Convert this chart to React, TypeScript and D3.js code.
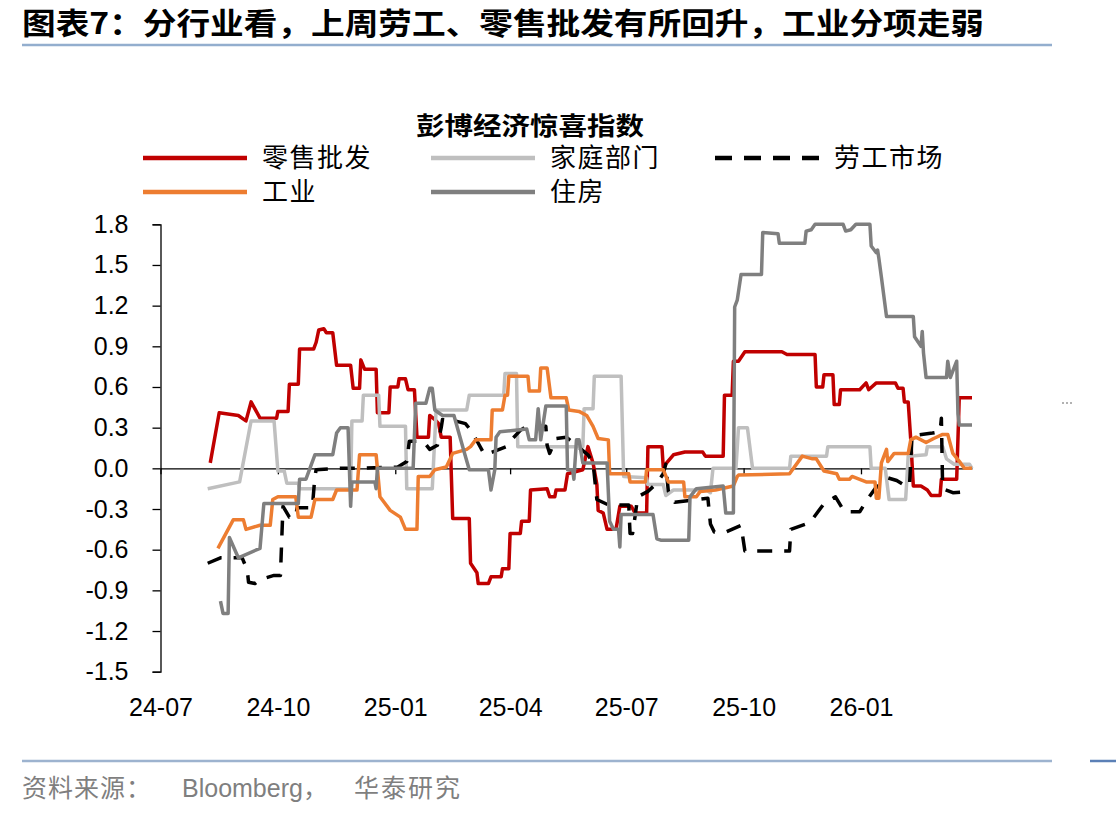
import React, { useRef, useEffect } from 'react';
import * as d3 from 'd3';

type Pt = [string, number];

// 彭博经济惊喜指数 by sector, sampled at each step change
const retail: Pt[] = [
  ["2024-08-09", 0.04], ["2024-08-16", 0.41], ["2024-08-31", 0.39], ["2024-09-06", 0.35], ["2024-09-10", 0.49],
  ["2024-09-17", 0.37], ["2024-09-30", 0.37], ["2024-10-01", 0.42], ["2024-10-09", 0.42], ["2024-10-10", 0.62],
  ["2024-10-17", 0.62], ["2024-10-18", 0.88], ["2024-10-29", 0.88], ["2024-10-31", 0.93], ["2024-11-02", 1.02],
  ["2024-11-06", 1.03], ["2024-11-08", 1.0], ["2024-11-13", 1.0], ["2024-11-16", 0.76], ["2024-11-27", 0.76],
  ["2024-11-29", 0.59], ["2024-12-04", 0.59], ["2024-12-05", 0.8], ["2024-12-08", 0.73], ["2024-12-17", 0.73],
  ["2024-12-18", 0.41], ["2024-12-27", 0.41], ["2024-12-28", 0.6], ["2025-01-03", 0.6], ["2025-01-04", 0.66],
  ["2025-01-09", 0.66], ["2025-01-11", 0.58], ["2025-01-16", 0.58], ["2025-01-18", 0.23], ["2025-01-27", 0.23],
  ["2025-01-28", 0.39], ["2025-02-01", 0.36], ["2025-02-04", 0.33], ["2025-02-06", 0.23], ["2025-02-13", 0.23],
  ["2025-02-15", -0.37], ["2025-02-28", -0.37], ["2025-03-01", -0.7], ["2025-03-06", -0.77], ["2025-03-07", -0.85],
  ["2025-03-15", -0.85], ["2025-03-17", -0.8], ["2025-03-25", -0.8], ["2025-03-26", -0.74], ["2025-03-31", -0.74],
  ["2025-04-01", -0.48], ["2025-04-09", -0.48], ["2025-04-10", -0.39], ["2025-04-16", -0.39], ["2025-04-17", -0.16],
  ["2025-04-30", -0.15], ["2025-05-02", -0.21], ["2025-05-06", -0.21], ["2025-05-07", -0.16], ["2025-05-14", -0.16],
  ["2025-05-16", -0.04], ["2025-05-28", -0.01], ["2025-06-01", 0.16], ["2025-06-05", 0.04], ["2025-06-08", -0.12],
  ["2025-06-09", -0.31], ["2025-06-13", -0.33], ["2025-06-16", -0.45], ["2025-06-23", -0.45], ["2025-06-26", -0.28],
  ["2025-07-05", -0.28], ["2025-07-08", -0.33], ["2025-07-17", -0.33], ["2025-07-18", 0.16], ["2025-07-29", 0.16],
  ["2025-07-30", 0.01], ["2025-08-07", 0.1], ["2025-08-16", 0.12], ["2025-08-30", 0.12], ["2025-09-01", 0.09],
  ["2025-09-15", 0.09], ["2025-09-16", 0.54], ["2025-09-22", 0.54], ["2025-09-23", 0.79], ["2025-09-27", 0.79],
  ["2025-10-02", 0.86], ["2025-10-31", 0.86], ["2025-11-04", 0.84], ["2025-11-26", 0.84], ["2025-11-27", 0.6],
  ["2025-12-02", 0.6], ["2025-12-03", 0.69], ["2025-12-10", 0.69], ["2025-12-11", 0.47], ["2025-12-15", 0.47],
  ["2025-12-16", 0.58], ["2025-12-31", 0.58], ["2026-01-05", 0.63], ["2026-01-07", 0.58], ["2026-01-13", 0.63],
  ["2026-01-28", 0.63], ["2026-01-30", 0.59], ["2026-02-03", 0.59], ["2026-02-04", 0.49], ["2026-02-07", 0.49],
  ["2026-02-09", 0.21], ["2026-02-11", -0.13], ["2026-02-17", -0.13], ["2026-02-22", -0.16], ["2026-02-25", -0.2],
  ["2026-03-04", -0.2], ["2026-03-05", -0.08], ["2026-03-17", -0.08], ["2026-03-19", 0.52], ["2026-03-29", 0.52],
];

const household: Pt[] = [
  ["2024-08-07", -0.15], ["2024-09-01", -0.1], ["2024-09-10", 0.35], ["2024-09-28", 0.35], ["2024-10-01", -0.02],
  ["2024-10-06", -0.02], ["2024-10-08", -0.11], ["2024-10-17", -0.11], ["2024-10-18", -0.15], ["2024-11-27", -0.15],
  ["2024-11-28", 0.35], ["2024-12-06", 0.35], ["2024-12-07", 0.54], ["2024-12-19", 0.54], ["2024-12-20", 0.31],
  ["2025-01-09", 0.31], ["2025-01-10", -0.15], ["2025-01-30", -0.15], ["2025-02-02", 0.43], ["2025-02-26", 0.43],
  ["2025-02-28", 0.54], ["2025-03-27", 0.54], ["2025-03-28", 0.7], ["2025-04-06", 0.7], ["2025-04-07", 0.16],
  ["2025-05-28", 0.16], ["2025-05-29", 0.44], ["2025-06-05", 0.44], ["2025-06-06", 0.68], ["2025-06-27", 0.68],
  ["2025-06-29", -0.06], ["2025-07-17", -0.07], ["2025-07-18", -0.12], ["2025-07-30", -0.12], ["2025-08-01", -0.2],
  ["2025-08-07", -0.16], ["2025-09-02", -0.16], ["2025-09-05", -0.18], ["2025-09-07", 0], ["2025-09-25", 0],
  ["2025-09-27", 0.3], ["2025-10-04", 0.3], ["2025-10-08", 0], ["2025-11-06", 0], ["2025-11-07", 0.09],
  ["2025-12-05", 0.09], ["2025-12-06", 0.16], ["2026-01-08", 0.16], ["2026-01-09", 0], ["2026-01-20", 0],
  ["2026-01-23", -0.23], ["2026-02-05", -0.23], ["2026-02-07", 0.09], ["2026-02-21", 0.1], ["2026-02-22", 0.16],
  ["2026-03-06", 0.16], ["2026-03-09", 0.07], ["2026-03-15", 0.03], ["2026-03-27", 0.03], ["2026-03-29", 0],
];

const labor: Pt[] = [
  ["2024-08-07", -0.7], ["2024-08-17", -0.66], ["2024-09-03", -0.66], ["2024-09-07", -0.75], ["2024-09-08", -0.84],
  ["2024-09-13", -0.85], ["2024-09-17", -0.82], ["2024-09-28", -0.79], ["2024-10-03", -0.79], ["2024-10-04", -0.53],
  ["2024-10-05", -0.28], ["2024-10-10", -0.36], ["2024-10-15", -0.36], ["2024-10-16", -0.29], ["2024-10-28", -0.29],
  ["2024-10-30", -0.06], ["2024-10-31", -0.01], ["2024-11-16", 0], ["2024-12-04", 0], ["2025-01-03", 0.01],
  ["2025-01-10", 0.05], ["2025-01-12", 0.2], ["2025-01-23", 0.2], ["2025-01-28", 0.14], ["2025-02-03", 0.17],
  ["2025-02-06", 0.3], ["2025-02-07", 0.36], ["2025-02-17", 0.35], ["2025-02-25", 0.33], ["2025-03-03", 0.26],
  ["2025-03-05", 0.22], ["2025-03-12", 0.1], ["2025-03-18", 0.12], ["2025-03-29", 0.16], ["2025-04-02", 0.21],
  ["2025-04-09", 0.28], ["2025-04-14", 0.31], ["2025-04-29", 0.31], ["2025-04-30", 0.17], ["2025-05-02", 0.11],
  ["2025-05-07", 0.22], ["2025-05-15", 0.23], ["2025-06-01", 0.1], ["2025-06-05", 0.04], ["2025-06-08", -0.23],
  ["2025-06-17", -0.27], ["2025-07-03", -0.27], ["2025-07-04", -0.48], ["2025-07-06", -0.48], ["2025-07-08", -0.35],
  ["2025-07-10", -0.21], ["2025-07-18", -0.17], ["2025-07-25", -0.11], ["2025-07-30", -0.04], ["2025-08-01", 0.03],
  ["2025-08-03", -0.17], ["2025-08-08", -0.25], ["2025-09-03", -0.22], ["2025-09-05", -0.41], ["2025-09-08", -0.47],
  ["2025-09-17", -0.47], ["2025-09-29", -0.42], ["2025-10-02", -0.61], ["2025-11-06", -0.61], ["2025-11-07", -0.45],
  ["2025-11-22", -0.4], ["2025-12-03", -0.26], ["2025-12-12", -0.21], ["2025-12-19", -0.32], ["2025-12-31", -0.32],
  ["2026-01-06", -0.23], ["2026-01-12", -0.15], ["2026-01-22", -0.07], ["2026-01-29", -0.09], ["2026-02-05", -0.13],
  ["2026-02-08", -0.13], ["2026-02-10", 0.24], ["2026-02-26", 0.26], ["2026-03-04", 0.27], ["2026-03-05", 0.37],
  ["2026-03-06", -0.15], ["2026-03-14", -0.18], ["2026-03-29", -0.17],
];

const industry: Pt[] = [
  ["2024-08-15", -0.59], ["2024-08-27", -0.38], ["2024-09-04", -0.38], ["2024-09-06", -0.45], ["2024-09-17", -0.42],
  ["2024-09-25", -0.42], ["2024-09-27", -0.23], ["2024-10-01", -0.21], ["2024-10-15", -0.21], ["2024-10-17", -0.36],
  ["2024-10-27", -0.36], ["2024-10-30", -0.23], ["2024-11-13", -0.23], ["2024-11-16", -0.16], ["2024-12-02", -0.16],
  ["2024-12-04", 0.1], ["2024-12-17", 0.1], ["2024-12-20", -0.21], ["2024-12-28", -0.31], ["2025-01-05", -0.36],
  ["2025-01-09", -0.45], ["2025-01-18", -0.45], ["2025-01-19", -0.06], ["2025-01-28", -0.06], ["2025-02-01", -0.01],
  ["2025-02-10", 0.01], ["2025-02-15", 0.11], ["2025-02-26", 0.14], ["2025-03-01", 0.16], ["2025-03-05", 0.21],
  ["2025-03-17", 0.21], ["2025-03-18", 0.43], ["2025-03-26", 0.43], ["2025-03-28", 0.54], ["2025-03-30", 0.54],
  ["2025-03-31", 0.68], ["2025-04-15", 0.68], ["2025-04-16", 0.57], ["2025-04-24", 0.57], ["2025-04-25", 0.74],
  ["2025-04-30", 0.74], ["2025-05-03", 0.52], ["2025-05-15", 0.52], ["2025-05-17", 0.43], ["2025-05-25", 0.42],
  ["2025-05-31", 0.39], ["2025-06-05", 0.31], ["2025-06-09", 0.22], ["2025-06-17", 0.21], ["2025-06-18", -0.04],
  ["2025-07-03", -0.04], ["2025-07-04", -0.1], ["2025-07-16", -0.1], ["2025-07-17", -0.01], ["2025-07-30", -0.01],
  ["2025-08-03", -0.1], ["2025-08-15", -0.1], ["2025-08-16", -0.21], ["2025-08-25", -0.21], ["2025-08-28", -0.17],
  ["2025-09-09", -0.16], ["2025-09-23", -0.13], ["2025-09-26", -0.06], ["2025-09-27", -0.05], ["2025-11-06", -0.04],
  ["2025-11-16", 0.09], ["2025-11-24", 0.07], ["2025-11-27", 0.07], ["2025-12-01", 0.01], ["2025-12-03", -0.02],
  ["2025-12-13", -0.04], ["2025-12-15", -0.08], ["2025-12-23", -0.08], ["2025-12-25", -0.06], ["2026-01-05", -0.1],
  ["2026-01-12", -0.1], ["2026-01-13", -0.22], ["2026-01-15", -0.22], ["2026-01-17", 0.04], ["2026-01-21", 0.14],
  ["2026-01-22", 0.05], ["2026-01-27", 0.11], ["2026-02-07", 0.11], ["2026-02-09", 0.21], ["2026-02-13", 0.23],
  ["2026-02-21", 0.19], ["2026-02-27", 0.22], ["2026-03-06", 0.25], ["2026-03-10", 0.25], ["2026-03-14", 0.11],
  ["2026-03-20", 0.04], ["2026-03-23", 0], ["2026-03-29", 0],
];

const housing: Pt[] = [
  ["2024-08-17", -0.98], ["2024-08-19", -1.07], ["2024-08-23", -1.07], ["2024-08-24", -0.51], ["2024-08-31", -0.66],
  ["2024-09-17", -0.59], ["2024-09-20", -0.26], ["2024-10-17", -0.26], ["2024-10-18", -0.08], ["2024-10-23", -0.08],
  ["2024-10-30", 0.1], ["2024-11-13", 0.1], ["2024-11-16", 0.26], ["2024-11-19", 0.3], ["2024-11-25", 0.3],
  ["2024-11-27", -0.28], ["2024-11-28", -0.1], ["2024-12-16", -0.1], ["2024-12-17", -0.15], ["2024-12-18", 0],
  ["2025-01-15", 0], ["2025-01-17", 0.48], ["2025-01-25", 0.48], ["2025-01-28", 0.59], ["2025-01-30", 0.59],
  ["2025-02-01", 0.43], ["2025-02-07", 0.39], ["2025-02-16", 0.39], ["2025-02-24", 0.12], ["2025-02-28", -0.01],
  ["2025-03-15", -0.01], ["2025-03-17", -0.16], ["2025-03-20", -0.01], ["2025-03-21", 0.23], ["2025-03-24", 0.27],
  ["2025-04-14", 0.29], ["2025-04-16", 0.21], ["2025-04-21", 0.21], ["2025-04-23", 0.44], ["2025-04-25", 0.21],
  ["2025-04-29", 0.46], ["2025-05-15", 0.46], ["2025-05-16", -0.01], ["2025-05-20", -0.01], ["2025-05-21", -0.08],
  ["2025-05-23", 0.21], ["2025-05-25", 0.21], ["2025-05-28", 0.04], ["2025-06-16", 0.04], ["2025-06-17", -0.18],
  ["2025-06-18", -0.39], ["2025-06-21", -0.45], ["2025-06-25", -0.45], ["2025-06-26", -0.58], ["2025-06-27", -0.34],
  ["2025-07-22", -0.34], ["2025-07-25", -0.52], ["2025-07-28", -0.53], ["2025-08-19", -0.53], ["2025-08-20", -0.21],
  ["2025-08-25", -0.15], ["2025-09-15", -0.13], ["2025-09-17", -0.33], ["2025-09-23", -0.33], ["2025-09-24", 1.19],
  ["2025-09-26", 1.24], ["2025-09-29", 1.43], ["2025-10-15", 1.43], ["2025-10-16", 1.74], ["2025-10-28", 1.73],
  ["2025-10-29", 1.66], ["2025-11-18", 1.66], ["2025-11-19", 1.75], ["2025-11-23", 1.76], ["2025-11-26", 1.8],
  ["2025-12-18", 1.8], ["2025-12-20", 1.75], ["2025-12-24", 1.76], ["2025-12-28", 1.8], ["2026-01-08", 1.8],
  ["2026-01-09", 1.64], ["2026-01-13", 1.59], ["2026-01-14", 1.61], ["2026-01-15", 1.55], ["2026-01-17", 1.41],
  ["2026-01-21", 1.12], ["2026-02-11", 1.12], ["2026-02-12", 0.97], ["2026-02-17", 0.9], ["2026-02-18", 1.01],
  ["2026-02-19", 0.85], ["2026-02-21", 0.67], ["2026-03-09", 0.67], ["2026-03-10", 0.79], ["2026-03-12", 0.67],
  ["2026-03-17", 0.79], ["2026-03-18", 0.4], ["2026-03-19", 0.32], ["2026-03-29", 0.32],
];

const seriesNames = ["零售批发", "家庭部门", "劳工市场", "工业", "住房"];
const seriesColors = ["#C00000", "#BFBFBF", "#000000", "#ED7D31", "#7F7F7F"];
const xTickLabels = ["24-07", "24-10", "25-01", "25-04", "25-07", "25-10", "26-01"];
const yTicks = [-1.5, -1.2, -0.9, -0.6, -0.3, 0, 0.3, 0.6, 0.9, 1.2, 1.5, 1.8];
const xDomain = ["2024-07-01", "2026-03-29"];

const titleText = "图表7：分行业看，上周劳工、零售批发有所回升，工业分项走弱";
const chartTitle = "彭博经济惊喜指数";

const CJK = "'Noto Sans CJK SC', sans-serif";
const NUM = "'Liberation Sans', Arial, sans-serif";

const App = () => {
  const svgRef = useRef<SVGSVGElement>(null);

  useEffect(() => {
    const svg = d3.select(svgRef.current);
    svg.selectAll("*").remove();

    const parse = d3.timeParse("%Y-%m-%d");
    const x = d3.scaleTime()
      .domain(xDomain.map(d => parse(d) as Date))
      .range([160.5, 972]);
    const y = d3.scaleLinear()
      .domain([-1.5, 1.8])
      .range([671.7, 224.3]);

    // Header
    svg.append("text")
      .attr("x", 22).attr("y", 34)
      .attr("font-family", CJK).attr("font-weight", 700).attr("font-size", 30)
      .attr("textLength", 962).attr("lengthAdjust", "spacingAndGlyphs")
      .attr("fill", "#000")
      .text(titleText);
    svg.append("line")
      .attr("x1", 22).attr("x2", 1052).attr("y1", 45).attr("y2", 45)
      .attr("stroke", "#93AECE").attr("stroke-width", 2.5);

    // Chart title
    svg.append("text")
      .attr("x", 530).attr("y", 135)
      .attr("text-anchor", "middle")
      .attr("font-family", CJK).attr("font-weight", 700).attr("font-size", 25)
      .attr("textLength", 228).attr("lengthAdjust", "spacingAndGlyphs")
      .text(chartTitle);

    // Y axis (bracket ends come from the outer ticks)
    const yAxis = svg.append("g")
      .attr("transform", "translate(160.5,0)")
      .call(d3.axisLeft(y).tickValues(yTicks).tickSize(8).tickPadding(24)
        .tickFormat(d => (+d).toFixed(1)));
    yAxis.select(".domain").attr("stroke", "#000").attr("stroke-width", 1.3);
    yAxis.selectAll(".tick line").attr("stroke", "#000").attr("stroke-width", 1.3);
    yAxis.selectAll(".tick text")
      .attr("font-family", NUM).attr("font-size", 25).attr("fill", "#000");

    // X axis sits on the zero line, labels at the bottom
    const tickDates = xTickLabels.map(l => parse(`20${l}-01`) as Date);
    const xAxis = svg.append("g")
      .attr("transform", `translate(0,${y(0)})`)
      .call(d3.axisBottom(x).tickValues(tickDates).tickSize(6).tickSizeOuter(0)
        .tickFormat((_, i) => xTickLabels[i]));
    xAxis.select(".domain").attr("stroke", "#000").attr("stroke-width", 1.3);
    xAxis.selectAll(".tick line").attr("stroke", "#000").attr("stroke-width", 1.3);
    xAxis.selectAll(".tick text")
      .attr("y", 716 - y(0)).attr("dy", null)
      .attr("font-family", NUM).attr("font-size", 25).attr("fill", "#000");

    // Lines
    const allData = [retail, household, labor, industry, housing];
    const line = d3.line<Pt>()
      .x(d => x(parse(d[0]) as Date))
      .y(d => y(d[1]));

    allData.forEach((data, i) => {
      svg.append("path")
        .datum(data)
        .attr("fill", "none")
        .attr("stroke", seriesColors[i])
        .attr("stroke-width", 3.5)
        .attr("stroke-linejoin", "round")
        .attr("stroke-dasharray", i === 2 ? "15,12" : null)
        .attr("d", line);
    });

    // Legend: three columns, two rows
    const legendCols = [143, 431, 715];
    const legendRows = [158, 192];
    seriesNames.forEach((name, i) => {
      const lx = legendCols[i % 3];
      const ly = legendRows[Math.floor(i / 3)];
      svg.append("line")
        .attr("x1", lx).attr("x2", lx + 104).attr("y1", ly).attr("y2", ly)
        .attr("stroke", seriesColors[i]).attr("stroke-width", 4.5)
        .attr("stroke-dasharray", i === 2 ? "17,12" : null);
      svg.append("text")
        .attr("x", lx + 119).attr("y", ly + 9)
        .attr("font-family", CJK).attr("font-size", 26)
        .attr("letter-spacing", 1.5)
        .attr("fill", "#000")
        .text(name);
    });

    // Footer
    svg.append("line")
      .attr("x1", 22).attr("x2", 1052).attr("y1", 761).attr("y2", 761)
      .attr("stroke", "#9DB3CF").attr("stroke-width", 2.5);
    svg.append("line")
      .attr("x1", 1090).attr("x2", 1116).attr("y1", 761).attr("y2", 761)
      .attr("stroke", "#5B80B6").attr("stroke-width", 2.5);
    const footer = svg.append("text")
      .attr("x", 22).attr("y", 797)
      .attr("fill", "#7F7F7F").attr("font-size", 25);
    footer.append("tspan").attr("font-family", CJK).attr("letter-spacing", 1).text("资料来源：");
    footer.append("tspan").attr("x", 182).attr("font-family", NUM).attr("font-size", 25).text("Bloomberg");
    footer.append("tspan").attr("font-family", CJK).text("，");
    footer.append("tspan").attr("x", 354).attr("font-family", CJK).attr("letter-spacing", 2).text("华泰研究");

    // Small stray mark at the right edge of the plot area
    svg.append("line")
      .attr("x1", 1062).attr("x2", 1074).attr("y1", 403).attr("y2", 403)
      .attr("stroke", "#666").attr("stroke-width", 1.2).attr("stroke-dasharray", "2,2");
  }, []);

  return (
    <svg
      ref={svgRef}
      width={1116}
      height={816}
      style={{ position: 'absolute', left: 0, top: 0, background: '#fff' }}
    />
  );
};

export default App;
